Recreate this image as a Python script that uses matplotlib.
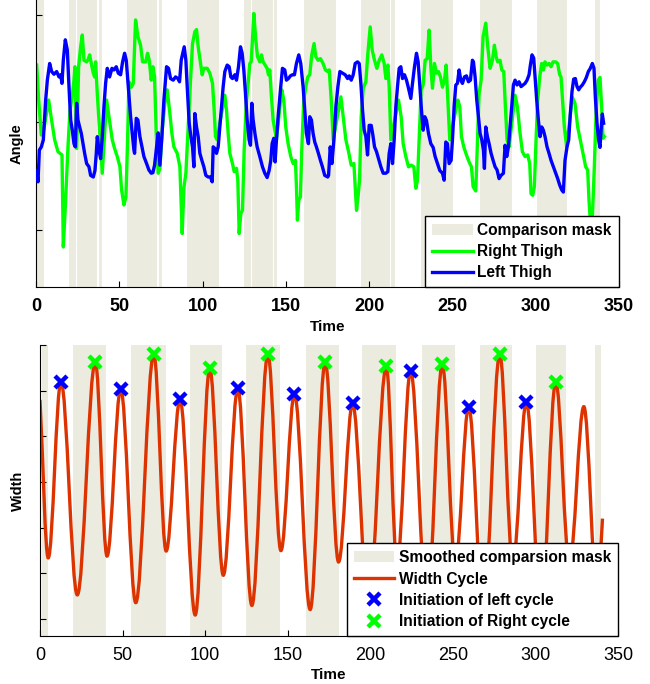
import matplotlib
matplotlib.use("Agg")
import matplotlib.pyplot as plt
from matplotlib.path import Path
from matplotlib.patches import PathPatch, Patch
from matplotlib.lines import Line2D

plt.rcParams["font.family"] = ["Liberation Sans", "DejaVu Sans"]

# ---- thigh angles (top panel) ----
right_t = [0.4, 1.6, 3.2, 4.8, 7.6, 9.2, 11.2, 13.2, 15.6, 16.4, 17.8, 19.2, 20.4, 21.8, 22.8, 23.4,
           24.4, 25.6, 26.8, 27.8, 28.8, 30.4, 31.4, 32.2, 33.2, 34.4, 35.2, 35.8, 36.8, 39.8, 42.4,
           43.8, 45.8, 47.2, 48.8, 50.4, 51.4, 52.8, 54.0, 55.0, 55.8, 57.2, 58.4, 59.8, 61.2, 62.8,
           64.0, 65.8, 67.0, 68.0, 69.2, 70.2, 71.2, 72.2, 73.4, 74.4, 75.8, 77.4, 78.8, 80.4, 81.6,
           82.8, 84.8, 86.4, 87.8, 88.8, 90.0, 91.4, 92.8, 94.0, 95.4, 96.4, 97.4, 98.8, 99.8, 100.8,
           102.8, 104.4, 106.0, 107.0, 107.8, 108.8, 110.0, 113.4, 114.4, 115.4, 116.4, 118.0, 119.0,
           120.4, 121.2, 122.0, 123.0, 124.0, 125.0, 126.4, 127.4, 128.4, 129.2, 130.0, 130.8, 132.0,
           133.0, 134.4, 135.4, 136.4, 137.6, 138.8, 139.6, 140.4, 141.4, 142.4, 144.4, 147.6, 148.8,
           150.0, 151.4, 153.0, 154.4, 155.8, 156.4, 157.0, 157.8, 158.8, 159.6, 160.8, 162.0, 163.2,
           164.4, 165.6, 167.0, 168.0, 169.4, 170.8, 172.4, 173.8, 175.2, 176.1, 177.3, 178.5, 183.1,
           184.5, 186.1, 187.7, 189.3, 190.9, 191.7, 192.5, 193.5, 194.3, 195.3, 196.5, 198.1, 199.3,
           200.7, 201.9, 203.3, 204.7, 206.1, 207.7, 209.1, 210.1, 211.3, 212.1, 213.1, 217.7, 219.3,
           220.5, 222.1, 223.7, 225.3, 226.9, 228.1, 229.1, 230.1, 231.3, 232.5, 233.7, 234.9, 236.1,
           237.1, 238.1, 239.3, 240.5, 241.7, 242.9, 244.1, 245.3, 246.3, 247.3, 248.5, 253.3, 254.5,
           255.5, 256.9, 258.5, 260.1, 261.5, 262.5, 264.1, 265.3, 266.1, 267.3, 268.5, 270.1, 271.3,
           272.7, 274.1, 275.3, 276.3, 277.3, 278.7, 279.7, 280.9, 281.7, 282.9, 284.1, 287.7, 289.1,
           290.7, 292.1, 293.7, 295.3, 296.5, 297.3, 298.3, 299.3, 300.3, 301.3, 302.5, 303.7, 304.7,
           305.7, 306.9, 308.1, 309.3, 310.5, 312.1, 313.3, 314.5, 315.3, 317.3, 318.7, 320.3, 322.1,
           323.7, 325.3, 326.9, 328.5, 330.1, 331.3, 332.1, 333.1, 334.1, 335.3, 336.5, 337.7, 338.7,
           339.7, 340.5, 341.3]
right_angle = [10.6, 4.1, -2.4, -1.2, 4.1, 0.7, -3.3, -5.5, -6.1, -23.2, -14.5, -4.6, 2.2, 5.0, 7.8,
               10.3, -4.9, 10.3, 14.0, 16.2, 11.5, 11.2, 11.7, 12.5, 10.9, 9.1, 8.4, 11.2, 5.3, -9.5,
               4.1, 1.0, -3.3, -4.9, -6.4, -8.3, -12.6, -15.4, -13.9, -3.3, 7.5, 6.5, 7.2, 19.0, 15.9,
               14.3, 11.2, 11.2, 12.8, 11.5, 7.8, 10.3, 8.4, -2.1, -9.5, -8.6, -1.5, 3.5, 6.0, 1.6,
               -2.1, -4.6, -5.8, -8.3, -20.7, -12.3, -9.5, -0.9, 7.8, 14.6, 16.8, 17.2, 14.0, 10.9,
               8.8, 10.0, 10.0, 9.1, 7.2, 2.2, -2.7, -3.3, -0.9, 5.0, 2.2, -2.1, -5.8, -7.7, -9.2,
               -8.6, -10.8, -20.7, -17.0, -16.4, -5.2, 4.1, 7.2, 10.9, 11.2, 15.3, 20.2, 15.3, 12.2,
               11.2, 12.5, 11.2, 10.6, 10.0, 8.8, 9.7, 4.7, 0.4, -3.3, 6.0, 4.1, -0.9, -4.0, -6.4,
               -7.7, -7.1, -12.0, -18.2, -14.5, -13.9, -5.2, 4.1, 6.5, 8.4, 8.8, 12.5, 14.6, 12.2,
               11.5, 11.8, 10.9, 9.7, 9.4, 9.7, 4.1, -3.3, 4.7, 1.0, -3.3, -5.5, -8.0, -7.7, -12.0,
               -16.4, -13.6, -10.8, 1.0, 6.3, 7.5, 12.8, 17.7, 13.4, 11.5, 10.0, 11.5, 12.5, 10.9,
               8.1, 10.6, 6.6, -3.3, 4.1, 1.0, -4.0, -6.4, -8.3, -8.0, -8.3, -12.3, -10.8, -3.3, 6.0,
               6.9, 11.5, 11.8, 17.1, 10.3, 6.3, 10.9, 9.1, 9.4, 8.4, 6.5, 7.8, 10.6, 4.1, -3.3, 4.1,
               2.9, -2.7, -4.6, -6.1, -7.4, -8.3, -12.0, -12.8, -2.1, 5.3, 7.8, 15.9, 18.4, 14.0,
               10.0, 11.5, 14.3, 12.2, 11.2, 11.5, 9.7, 9.4, 4.1, -3.3, -4.6, 5.0, 2.9, -2.1, -5.5,
               -6.4, -6.1, -7.7, -13.3, -13.6, -12.0, -3.3, 4.1, 8.4, 10.9, 9.7, 11.2, 10.6, 10.9,
               10.3, 11.2, 11.2, 10.9, 8.8, 8.4, -0.9, -4.6, -0.2, 4.6, 3.5, -0.9, -3.3, -5.8, -8.3,
               -8.9, -14.5, -19.5, -18.2, -8.3, 2.9, 7.8, 8.3, 2.9, -3.0, -2.7]

left_t = [0.4, 1.2, 2.0, 3.2, 4.4, 5.8, 6.8, 8.2, 9.4, 10.8, 12.4, 13.8, 14.8, 15.6, 16.4, 17.6,
          18.8, 19.8, 20.8, 21.8, 22.8, 23.6, 24.4, 25.2, 26.2, 27.2, 28.2, 29.2, 30.4, 31.8, 32.8,
          34.4, 35.4, 36.2, 36.8, 37.8, 38.8, 39.8, 40.8, 41.8, 42.8, 44.2, 45.6, 46.8, 48.2, 49.4,
          50.8, 52.0, 53.2, 54.2, 55.4, 56.8, 57.8, 58.8, 59.2, 60.2, 61.2, 62.4, 63.6, 64.8, 66.4,
          67.8, 69.2, 70.2, 71.2, 72.4, 73.4, 74.4, 75.6, 76.8, 78.4, 79.6, 80.8, 82.4, 83.8, 85.2,
          86.2, 87.2, 87.4, 89.0, 90.0, 90.8, 92.0, 93.0, 94.0, 94.8, 95.4, 96.4, 97.4, 98.4, 99.6,
          100.8, 102.0, 103.4, 104.8, 105.8, 106.4, 107.4, 108.4, 109.4, 110.4, 111.4, 112.4, 113.4,
          114.8, 116.0, 117.0, 118.0, 119.4, 120.4, 121.6, 122.8, 123.8, 124.8, 125.8, 126.8, 128.0,
          128.8, 129.6, 130.4, 131.6, 132.8, 134.4, 136.0, 137.4, 138.8, 140.0, 141.0, 141.8, 142.8,
          143.6, 144.4, 145.4, 146.8, 148.0, 149.4, 150.4, 151.6, 152.8, 154.0, 155.2, 156.4, 157.8,
          159.0, 160.4, 161.4, 162.4, 163.6, 164.4, 165.4, 166.4, 167.4, 168.4, 169.6, 170.8, 172.0,
          173.4, 175.2, 175.7, 176.7, 177.7, 178.9, 180.1, 181.3, 182.5, 184.1, 185.7, 187.1, 188.1,
          189.3, 190.5, 191.7, 193.1, 194.1, 195.1, 196.1, 197.1, 198.1, 199.1, 200.1, 201.3, 202.3,
          203.3, 204.5, 205.7, 207.1, 208.5, 210.1, 211.3, 212.1, 213.1, 214.1, 215.1, 216.1, 217.1,
          218.1, 219.1, 220.1, 221.3, 222.5, 223.7, 225.1, 226.1, 227.3, 228.5, 229.5, 230.5, 231.5,
          232.5, 233.5, 234.5, 235.7, 237.1, 238.5, 239.7, 241.1, 242.5, 244.1, 245.1, 246.1, 247.1,
          248.1, 249.3, 250.1, 251.1, 252.1, 253.1, 254.1, 255.1, 256.1, 257.3, 258.5, 259.7, 260.9,
          262.1, 262.7, 263.7, 264.7, 265.7, 266.7, 267.7, 268.7, 269.3, 270.1, 271.1, 272.1, 273.3,
          274.5, 275.7, 276.9, 278.1, 279.3, 280.7, 281.7, 282.7, 283.7, 284.7, 285.7, 286.7, 287.7,
          288.9, 290.1, 291.3, 292.5, 293.7, 294.9, 296.1, 296.9, 297.9, 298.9, 299.7, 300.7, 301.7,
          302.7, 303.7, 304.7, 305.7, 306.9, 308.1, 309.3, 310.7, 312.1, 313.3, 314.5, 315.7, 316.7,
          317.7, 318.9, 319.9, 320.9, 321.9, 322.9, 323.9, 324.9, 325.9, 326.9, 328.1, 329.3, 330.5,
          331.7, 332.9, 334.1, 335.1, 335.9, 336.9, 337.9, 338.7, 339.5, 340.1, 340.9]
left_angle = [-9.0, -11.1, -5.2, -4.6, -3.3, 4.1, 7.8, 10.9, 9.4, 8.9, 9.4, 8.4, 8.8, 7.2, 11.5, 15.3,
              13.4, 6.6, 0.4, -1.5, -4.0, -4.6, 3.5, 0.4, -0.9, -2.1, -4.0, -5.8, -7.7, -8.3, -9.9,
              -10.2, -9.0, -5.8, -2.7, -5.2, -6.8, -2.7, 2.9, 7.2, 10.0, 8.4, 10.0, 9.7, 10.3, 9.1,
              8.8, 11.2, 12.8, 11.5, 6.6, 1.0, -2.1, -5.2, -5.8, 0.7, 0.4, -2.7, -4.6, -6.4, -7.7,
              -8.9, -9.5, -9.4, -8.0, -4.6, -2.0, -8.0, -2.7, 4.1, 10.3, 10.0, 8.1, 7.8, 8.4, 8.1,
              7.5, 11.5, 11.8, 14.0, 11.5, 6.6, -0.2, -2.7, -4.6, -8.3, 1.6, -0.9, -2.7, -5.8, -7.1,
              -8.3, -9.9, -10.2, -10.2, -11.1, -4.6, -4.9, -5.8, -4.6, -0.9, 2.9, 6.6, 9.4, 10.6,
              10.3, 8.4, 8.1, 8.8, 7.8, 10.3, 14.0, 12.8, 9.7, 5.3, 0.4, -3.3, -4.3, 3.5, 0.4, -2.4,
              -4.6, -6.4, -8.3, -9.5, -10.3, -9.0, -7.1, -4.0, -3.0, -7.4, -3.3, 1.0, 6.0, 10.0, 9.7,
              7.8, 8.1, 8.6, 8.8, 8.8, 10.9, 12.5, 10.9, 6.6, 2.2, -2.1, -4.0, 1.0, 0.4, -2.1, -3.7,
              -4.6, -5.8, -7.1, -8.3, -9.9, -10.2, -9.9, -4.6, -7.7, -3.3, 2.9, 6.6, 9.4, 9.1, 8.8,
              8.1, 8.6, 7.8, 8.8, 10.9, 11.2, 10.9, 7.2, 2.2, -1.5, -2.7, -6.1, -0.6, -0.6, -2.4,
              -4.6, -5.5, -6.8, -8.3, -9.5, -9.5, -9.2, -5.8, -4.0, -7.7, -3.3, 2.9, 6.6, 10.0, 10.3,
              8.1, 8.8, 7.8, 6.3, 4.4, 7.2, 10.3, 12.8, 11.2, 6.6, 2.2, -1.5, 1.0, 0.3, -2.1, -4.0,
              -4.7, -6.4, -7.7, -9.0, -9.5, -10.8, -3.7, -4.0, -7.7, -7.1, -3.3, 2.9, 6.9, 7.2, 9.7,
              7.8, 7.2, 8.4, 8.6, 7.5, 7.8, 11.5, 11.2, 8.4, 4.1, 1.0, -2.1, -3.3, -5.2, -8.6, -0.9,
              -2.7, -4.0, -5.8, -7.1, -8.3, -8.9, -10.5, -9.9, -9.5, -4.3, -6.4, -4.6, -0.9, 2.9, 6.9,
              7.8, 6.9, 7.5, 6.6, 6.9, 7.2, 7.8, 8.8, 10.6, 12.5, 11.9, 8.4, 4.1, 0.4, -2.7, -0.9,
              -1.5, -2.7, -4.6, -5.8, -7.1, -8.3, -9.5, -10.5, -11.7, -12.6, -13.0, -7.1, -4.6, -3.3,
              1.6, 5.7, 8.0, 8.1, 6.6, 6.0, 6.5, 6.9, 7.5, 8.3, 9.4, 10.0, 10.9, 10.0, 4.7, -0.2,
              -3.3, -4.7, -0.9, 1.5, -0.2]

mask_start = [0, 20, 24.6, 37.8, 54.6, 73.8, 90.6, 124.8, 129.6, 142.8, 160.9, 195, 213, 231,
              266.5, 300.7, 335.5]
mask_end = [4.8, 24.3, 36.6, 39.6, 72.6, 75.6, 109.8, 129, 142.2, 144.6, 180, 212.5, 215.5,
            250.2, 285.7, 318.7, 338.5]

# ---- width cycle (bottom panel): turning points of the smoothed width ----
width_t = [0, 5, 12.7, 22.6, 33.5, 40.6, 48.9, 58, 68.9, 76.4, 84.8, 94, 102.8, 111, 119.8, 128.3,
           138, 145.9, 154.1, 163.6, 172.7, 180.8, 189.3, 198.9, 209.7, 216.2, 224.4, 234.4, 243.6,
           251.5, 259.6, 268.5, 278.4, 286.3, 294.5, 303.4, 312.3, 320.6, 329.3, 337.5, 340.6]
width_val = [48, 13.4, 52, 5.3, 56.3, 13.8, 50.4, 3.6, 58, 14.9, 48.1, 0.9, 54.9, 9.6, 50.5, 3.0,
             58, 15, 49.3, 2.1, 56.3, 12.5, 47.2, 3.0, 55.3, 12.0, 54.4, 3.0, 55.8, 12.0, 46.5, 2.0,
             58, 12.0, 47.6, 2.0, 52, 12.0, 46.5, 5.0, 22]

left_init = [12.7, 48.9, 84.8, 119.8, 154.1, 189.3, 224.4, 259.6, 294.5]
right_init = [33.5, 68.9, 102.8, 138, 172.7, 209.7, 243.6, 278.4, 312.3]

smooth_start = [1, 20, 55, 90.9, 124.9, 161.2, 195.2, 231.6, 266.6, 300.6, 335.9]
smooth_end = [4.8, 40.2, 76.6, 110.1, 145.5, 180.8, 215.6, 251, 285.8, 318.7, 339.4]

MASK = "#ebebe0"
GREEN = "#00ff00"
BLUE = "#0000ff"
RED = "#dd3300"
LEG_KW = dict(loc="lower right", borderaxespad=0.0, fancybox=False, framealpha=1,
              edgecolor="black", handlelength=2.6, handletextpad=0.3, labelspacing=0.4,
              borderpad=0.45, prop={"weight": "bold", "size": 11.2})


def smooth_path(ts, ws, k=0.36):
    # cubic segments with flat tangents at each turning point
    verts = [(ts[0], ws[0])]
    codes = [Path.MOVETO]
    n = len(ts) - 1
    for i in range(n):
        t0, w0, t1, w1 = ts[i], ws[i], ts[i + 1], ws[i + 1]
        dt, dw = t1 - t0, w1 - w0
        c1 = (t0 + k * dt, w0 + (k * dw if i == 0 else 0))
        c2 = (t1 - k * dt, w1 - (k * dw if i == n - 1 else 0))
        verts += [c1, c2, (t1, w1)]
        codes += [Path.CURVE4] * 3
    return Path(verts, codes)


def style_axes(ax, bold_ticks):
    for side in ("top", "right"):
        ax.spines[side].set_visible(False)
    ax.tick_params(direction="in", length=4, width=0.8, labelsize=13, pad=8)
    ax.tick_params(axis="y", labelleft=False)
    ax.set_xlim(0, 350)
    ax.set_xticks(range(0, 351, 50))
    if bold_ticks:
        for lab in ax.get_xticklabels():
            lab.set_fontweight("bold")


fig = plt.figure(figsize=(6.5, 6.84), dpi=100)
ax1 = fig.add_axes([0.0554, 0.580, 0.8966, 0.420])
ax2 = fig.add_axes([0.0615, 0.0702, 0.8893, 0.4254])

# top: thigh angles
for i, (s, e) in enumerate(zip(mask_start, mask_end)):
    ax1.axvspan(s, e, color=MASK, lw=0, zorder=0,
                label="Comparison mask" if i == 0 else None)
ax1.plot(right_t, right_angle, color=GREEN, lw=2.4, label="Right Thigh", zorder=2)
ax1.plot(left_t, left_angle, color=BLUE, lw=2.4, label="Left Thigh", zorder=3)
ax1.set_ylim(-30.7, 22.7)
ax1.set_yticks([-20, 0, 20])
style_axes(ax1, True)
ax1.set_xlabel("Time", fontsize=11, fontweight="bold", labelpad=3)
ax1.set_ylabel("Angle", fontsize=10.5, fontweight="bold", labelpad=9)
leg1 = ax1.legend(**LEG_KW)
leg1.get_frame().set_linewidth(1.0)

# bottom: width cycle
for s, e in zip(smooth_start, smooth_end):
    ax2.axvspan(s, e, color=MASK, lw=0, zorder=0)
ax2.add_patch(PathPatch(smooth_path(width_t, width_val), fill=False, edgecolor=RED,
                        lw=2.4, zorder=2, transform=ax2.transData))
peak_map = dict(zip(width_t, width_val))
ax2.plot(left_init, [peak_map[t] for t in left_init], ls="none", marker="x", ms=8.5,
         mew=3.2, color=BLUE, zorder=4)
ax2.plot(right_init, [peak_map[t] for t in right_init], ls="none", marker="x", ms=8.5,
         mew=3.2, color=GREEN, zorder=4)
ax2.set_ylim(-3.7, 60)
ax2.set_yticks(range(0, 61, 10))
style_axes(ax2, False)
ax2.set_xlabel("Time", fontsize=11, fontweight="bold", labelpad=3)
ax2.set_ylabel("Width", fontsize=10.5, fontweight="bold", labelpad=11)
handles = [
    Patch(facecolor=MASK, edgecolor="none"),
    Line2D([], [], color=RED, lw=2.4),
    Line2D([], [], ls="none", marker="x", ms=8.5, mew=3.2, color=BLUE),
    Line2D([], [], ls="none", marker="x", ms=8.5, mew=3.2, color=GREEN),
]
labels = ["Smoothed comparsion mask", "Width Cycle", "Initiation of left cycle",
          "Initiation of Right cycle"]
leg2 = ax2.legend(handles, labels, **LEG_KW)
leg2.get_frame().set_linewidth(1.0)

fig.savefig("out.png", dpi=100)
